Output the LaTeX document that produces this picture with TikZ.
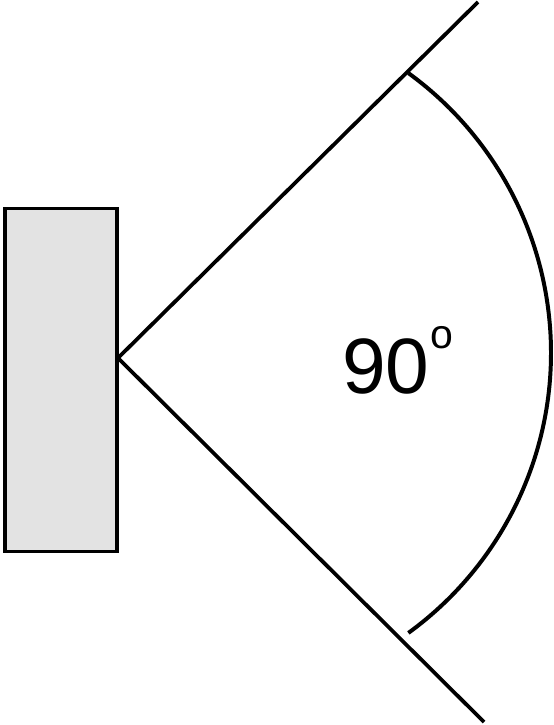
\documentclass[tikz,border=0pt]{standalone}
\usepackage{fontspec}
\setmainfont{Liberation Sans}
\usepackage{xcolor}
\definecolor{wallgray}{RGB}{227,227,227}

\begin{document}
\begin{tikzpicture}[x=0.03cm,y=-0.03cm,
                wall/.style={rectangle, draw=black, line width=3.3pt, fill=wallgray, minimum width=3.36cm, minimum height=10.29cm, inner sep=0pt},
                ray/.style={line width=3.2pt},
                sweep/.style={line width=3.4pt},
                angletext/.style={anchor=base west, inner sep=0pt, font=\fontsize{67}{67}\selectfont}
            ]
                \useasboundingbox (0,0) rectangle (553,725);
                \node[wall] (wall) at (61,380) {};
                \coordinate (apex) at (118,358);
                \coordinate (upper) at (478,2);
                \coordinate (lower) at (484,722);

                \draw[ray] (apex) -- (upper);
                \draw[ray] (apex) -- (lower);

                % the arc round the spread
                \coordinate (arccentre) at (205,353);
                \draw[sweep] ([shift={(54:346)}]arccentre) arc[start angle=54, end angle=-54, radius=346];

                \node[angletext] (angle) at (342,393) {90\kern1pt\raisebox{1.33cm}{\fontsize{35}{35}\selectfont o}};
            \end{tikzpicture}
\end{document}
